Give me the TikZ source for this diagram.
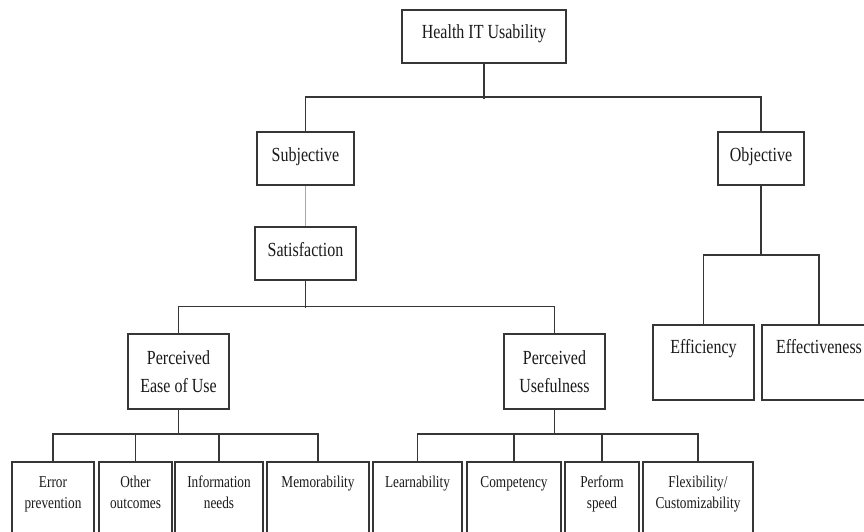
\documentclass[tikz,border=0pt]{standalone}
\usepackage{fontspec}
\setmainfont[FakeStretch=0.8]{Liberation Serif}
\definecolor{linec}{HTML}{363636}
\definecolor{lightc}{HTML}{A8A8A8}
\definecolor{txtc}{HTML}{1A1A1A}
\newcommand{\topbox}[4]{\parbox[c][#2pt][t]{#1pt}{\centering\rule{0pt}{#3pt}#4\par}}
\begin{document}
\begin{tikzpicture}[x=1pt,y=-1pt,
  box/.style={draw=linec, line width=1.5pt, inner sep=0pt, fill=white, text=txtc},
  big/.style={font=\fontsize{20}{28}\selectfont, align=center},
  one/.style={text height=14pt, text depth=8pt},
  small/.style={font=\fontsize{16.6}{21}\selectfont},
  con/.style={draw=linec, line width=1.5pt},
  faint/.style={draw=lightc, line width=1.5pt}]
\useasboundingbox (0,0) rectangle (864,532);
\clip (0,0) rectangle (864,532);
\fill[white] (0,0) rectangle (864,532);
% top level
\node[box, big, text height=13pt, text depth=9pt, minimum width=164pt, minimum height=53pt] (hit) at (484,36.5) {Health IT Usability};
\node[box, big, one, minimum width=97pt, minimum height=53pt] (subj) at (305.5,158.5) {Subjective};
\node[box, big, one, minimum width=86pt, minimum height=53pt] (obj) at (761,158.5) {Objective};
\node[box, big, one, minimum width=101pt, minimum height=53pt] (sat) at (305.5,253.5) {Satisfaction};
\node[box, big, minimum width=101pt, minimum height=75pt] (peu) at (178.5,371.5) {Perceived\\Ease of Use};
\node[box, big, minimum width=101pt, minimum height=75pt] (pu) at (554.5,371.5) {Perceived\\Usefulness};
% objective children
\node[box, big, anchor=north] (effi) at (703.5,324) {\topbox{101}{75}{29}{Efficiency}};
\node[box, big, anchor=north] (effe) at (819,324) {\topbox{114}{75}{29}{Effectiveness}};
% bottom row
\node[box, small, anchor=north] (ep) at (53,461) {\topbox{82}{87}{26}{Error\\prevention}};
\node[box, small, anchor=north] (oo) at (135.5,461) {\topbox{73}{87}{26}{Other\\outcomes}};
\node[box, small, anchor=north] (inf) at (219,461) {\topbox{88}{87}{26}{Information\\needs}};
\node[box, small, anchor=north] (mem) at (318,461) {\topbox{102}{87}{26}{Memorability}};
\node[box, small, anchor=north] (lrn) at (417.5,461) {\topbox{89}{87}{26}{Learnability}};
\node[box, small, anchor=north] (cmp) at (514,461) {\topbox{94}{87}{26}{Competency}};
\node[box, small, anchor=north] (psp) at (602,461) {\topbox{74}{87}{26}{Perform\\speed}};
\node[box, small, anchor=north] (flx) at (698,461) {\topbox{110}{87}{26}{Flexibility/\\Customizability}};
% connectors
\draw[con] (hit.south) -- ++(0,35);
\draw[con] (subj.north) -- ++(0,-34) -| (obj.north);
\draw[faint] (subj.south) -- (sat.north);
\draw[con] (sat.south) -- ++(0,27);
\draw[con] (peu.north) -- ++(0,-27) -| (pu.north);
\draw[con] (obj.south) -- ++(0,70);
\draw[con] (effi.north) -- ++(0,-69) -| (effe.north);
\draw[con] (peu.south) -- ++(0,25);
\draw[con] (ep.north) -- ++(0,-27) -| (mem.north);
\draw[con] (oo.north) -- ++(0,-27);
\draw[con] (inf.north) -- ++(0,-27);
\draw[con] (pu.south) -- ++(0,25);
\draw[con] (lrn.north) -- ++(0,-27) -| (flx.north);
\draw[con] (cmp.north) -- ++(0,-27);
\draw[con] (psp.north) -- ++(0,-27);
\end{tikzpicture}
\end{document}
